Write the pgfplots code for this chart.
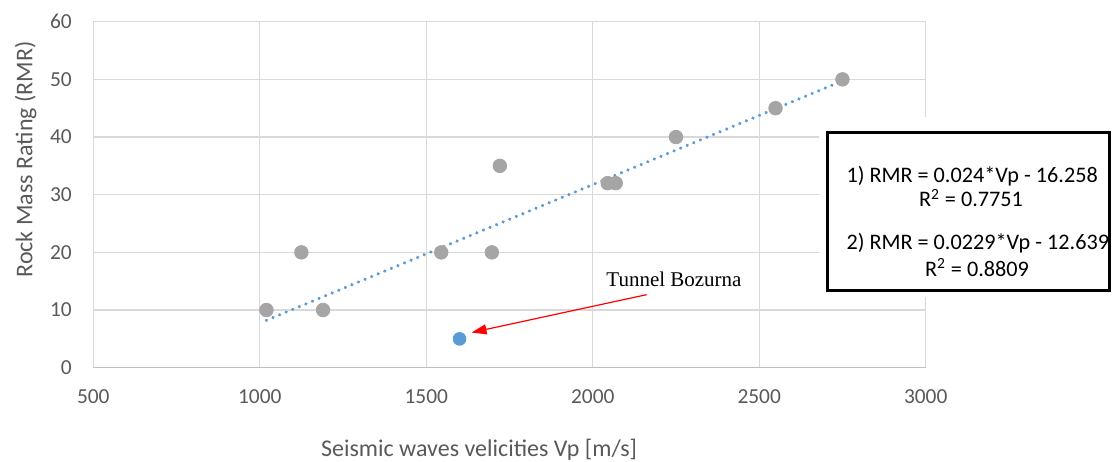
\documentclass[border=0pt]{standalone}
\usepackage{fontspec}
\setmainfont{Carlito}
\newfontfamily\timesf{Liberation Serif}
\usepackage{pgfplots}
\pgfplotsset{compat=1.18}
\usetikzlibrary{arrows.meta}
\definecolor{tickgray}{HTML}{595959}
\definecolor{gridgray}{HTML}{D9D9D9}
\definecolor{axgray}{HTML}{BFBFBF}
\definecolor{ptgray}{HTML}{A5A5A5}
\definecolor{ptblue}{HTML}{5B9BD5}
\begin{document}
\begin{tikzpicture}
\useasboundingbox (-46.65pt,-46.65pt) rectangle (509.85pt,183.85pt);
\begin{axis}[
  name=ax,
  at={(0,0)}, anchor=south west,
  scale only axis,
  width=416.2pt, height=173pt,
  xmin=500, xmax=3000, ymin=0, ymax=60,
  xtick={500,1000,...,3000},
  ytick={0,10,...,60},
  grid=major,
  grid style={color=gridgray, line width=0.6pt},
  axis line style={draw=none},
  major tick length=0pt,
  clip=false,
  /pgf/number format/1000 sep={},
  /pgf/number format/assume math mode=true,
  xticklabel style={font=\fontsize{10.7}{12}\selectfont, text=tickgray, anchor=center, inner sep=0pt, yshift=-14.5pt},
  yticklabel style={font=\fontsize{10.7}{12}\selectfont, text=tickgray, anchor=east, inner sep=0pt, xshift=-10.6pt},
]
\draw[axgray, line width=0.7pt] (axis cs:500,0) -- (axis cs:3000,0);
\addplot[only marks, mark=*, mark size=3.4pt, mark options={fill=ptgray, draw=ptgray}] coordinates {
  (1020,10) (1125,20) (1190,10) (1545,20) (1697,20) (1721,35)
  (2045,32) (2069,32) (2250,40) (2549,45) (2750,50)
};
\addplot[only marks, mark=*, mark size=3.2pt, mark options={fill=ptblue, draw=ptblue}] coordinates {(1600,5)};
\addplot[ptblue, line width=1.75pt, line cap=round, dash pattern=on 0.01pt off 3.55pt] coordinates {(1020,8.222) (2750,49.742)};
\draw[red, line width=0.6pt, -{Triangle[length=7.5pt,width=5pt]}] (axis cs:2162,12.67) -- (axis cs:1636,6.1);
\node[anchor=base, font=\timesf\fontsize{10.5}{12}\selectfont, inner sep=0pt] at (axis cs:2244,14.13) {Tunnel Bozurna};
\fill[white] (axis cs:2680,43.47) rectangle (axis cs:3560,12.26);
\draw[black, line width=1.65pt] (axis cs:2705,40.78) rectangle (axis cs:3553,13.35);
\node[anchor=base west, inner sep=0pt, font=\fontsize{11.1}{13}\selectfont] at (axis cs:2761,32.11) {1) RMR = 0.024*Vp - 16.258};
\node[anchor=base, inner sep=0pt, font=\fontsize{11.1}{13}\selectfont] at (axis cs:3136,27.87) {R\textsuperscript{2} = 0.7751};
\node[anchor=base west, inner sep=0pt, font=\fontsize{11.1}{13}\selectfont] at (axis cs:2761,20.52) {2) RMR = 0.0229*Vp - 12.639};
\node[anchor=base, inner sep=0pt, font=\fontsize{11.1}{13}\selectfont] at (axis cs:3154,15.9) {R\textsuperscript{2} = 0.8809};
\end{axis}
\node[anchor=base, inner sep=0pt, text=tickgray, font=\fontsize{12}{14}\selectfont] at (192.9pt,-44.5pt) {Seismic waves velicities Vp [m/s]};
\node[anchor=base, rotate=90, inner sep=0pt, text=tickgray, font=\fontsize{12}{14}\selectfont] at (-30.4pt,104.1pt) {Rock Mass Rating (RMR)};
\end{tikzpicture}
\end{document}
